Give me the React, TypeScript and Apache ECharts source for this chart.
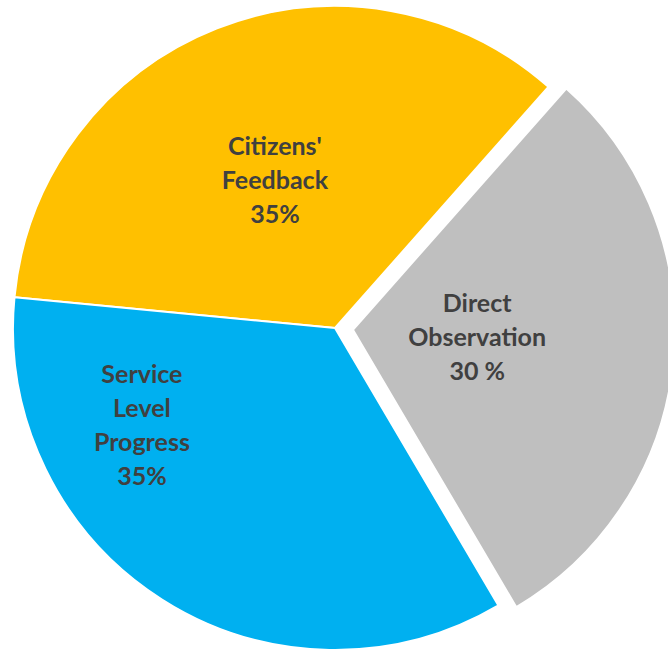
import React, { useEffect, useRef } from "react";
import * as echarts from "echarts";

const categories = ["Citizens'\nFeedback", "Direct\nObservation", "Service\nLevel\nProgress"];
const values = [35, 30, 35];
const percentLabels = ["35%", "30 %", "35%"];
const colors = ["#FFC000", "#BFBFBF", "#00B0F0"];
const selectedFlags = [false, true, false];
// label shifts from the default inside position
const labelShift = [
  [0, 4],
  [-39, -9],
  [-105, -42],
];

export default function App() {
  const ref = useRef<HTMLDivElement>(null);
  useEffect(() => {
    if (!ref.current) return;
    const chart = echarts.init(ref.current, null, { renderer: "svg" });
    chart.setOption({
      animation: false,
      backgroundColor: "#ffffff",
      series: [
        {
          type: "pie",
          center: [335, 328],
          radius: [0, 322],
          startAngle: 174.5,
          clockwise: true,
          selectedMode: "single",
          selectedOffset: 18,
          avoidLabelOverlap: false,
          itemStyle: { borderColor: "#ffffff", borderWidth: 2 },
          label: {
            show: true,
            position: "inside",
            color: "#404040",
            fontFamily: "Lato",
            fontWeight: "bold",
            fontSize: 25,
            lineHeight: 34,
            align: "center",
            formatter: (p: any) => `${p.name}\n${percentLabels[p.dataIndex]}`,
          },
          labelLine: { show: false },
          emphasis: { disabled: true },
          labelLayout: (p: any) => ({ dx: labelShift[p.dataIndex][0], dy: labelShift[p.dataIndex][1] }),
          data: categories.map((name, i) => ({
            name,
            value: values[i],
            selected: selectedFlags[i],
            itemStyle: { color: colors[i] },
          })),
        },
      ],
    });
    return () => chart.dispose();
  }, []);
  return (
    <div
      ref={ref}
      style={{ position: "fixed", left: 0, top: 0, width: 668, height: 650 }}
    />
  );
}
